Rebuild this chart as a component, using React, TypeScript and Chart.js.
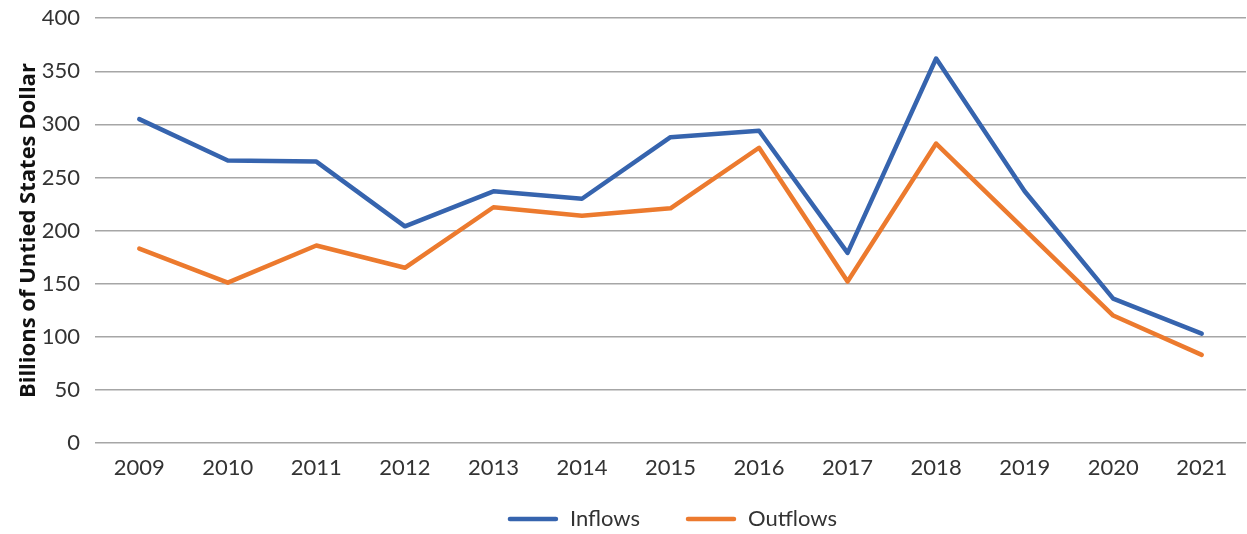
import React, { useEffect, useRef } from "react";
import { Chart, registerables } from "chart.js";

Chart.register(...registerables);

const years = ["2009", "2010", "2011", "2012", "2013", "2014", "2015", "2016", "2017", "2018", "2019", "2020", "2021"];
const inflows = [305, 266, 265, 204, 237, 230, 288, 294, 179, 362, 237, 136, 103];
const outflows = [183, 151, 186, 165, 222, 214, 221, 278, 152, 282, 201, 120, 83];
const yTicks = [0, 50, 100, 150, 200, 250, 300, 350, 400];

const FONT = "Lato, 'Open Sans', sans-serif";
const OFFSET_Y = -10;
const CANVAS_H = 544;
const LEGEND_Y = 529;

const legendPlugin = {
  id: "bottomLegend",
  afterDraw(chart: any) {
    const ctx = chart.ctx as CanvasRenderingContext2D;
    const area = chart.chartArea;
    const items = chart.data.datasets.map((ds: any) => ({ text: ds.label as string, color: ds.borderColor as string }));
    const lineW = 50;
    const textGap = 12;
    const itemGap = 46;
    ctx.save();
    ctx.font = `22px ${FONT}`;
    const widths = items.map((it: any) => lineW + textGap + ctx.measureText(it.text).width);
    const total = widths.reduce((a: number, b: number) => a + b, 0) + itemGap * (items.length - 1);
    let x = (area.left + area.right) / 2 + 2 - total / 2;
    items.forEach((it: any, i: number) => {
      ctx.strokeStyle = it.color;
      ctx.lineWidth = 4.5;
      ctx.lineCap = "round";
      ctx.beginPath();
      ctx.moveTo(x + 2, LEGEND_Y);
      ctx.lineTo(x + lineW - 2, LEGEND_Y);
      ctx.stroke();
      ctx.fillStyle = "#333333";
      ctx.textBaseline = "middle";
      ctx.textAlign = "left";
      ctx.fillText(it.text, x + lineW + textGap, LEGEND_Y);
      x += widths[i] + itemGap;
    });
    ctx.restore();
  },
};

export default function App() {
  const ref = useRef<HTMLCanvasElement | null>(null);
  useEffect(() => {
    if (!ref.current) return;
    const chart = new Chart(ref.current, {
      type: "line",
      data: {
        labels: years,
        datasets: [
          {
            label: "Inflows",
            data: inflows,
            borderColor: "#3664AE",
            backgroundColor: "#3664AE",
            borderWidth: 4.5,
            pointRadius: 0,
            tension: 0,
            borderCapStyle: "round",
            borderJoinStyle: "round",
          },
          {
            label: "Outflows",
            data: outflows,
            borderColor: "#EC7A2E",
            backgroundColor: "#EC7A2E",
            borderWidth: 4.5,
            pointRadius: 0,
            tension: 0,
            borderCapStyle: "round",
            borderJoinStyle: "round",
          },
        ],
      },
      plugins: [legendPlugin],
      options: {
        animation: false,
        responsive: false,
        maintainAspectRatio: false,
        layout: { padding: { left: 16, right: 1, top: 0, bottom: 41 } },
        plugins: {
          legend: { display: false },
          tooltip: { enabled: false },
        },
        scales: {
          x: {
            offset: true,
            grid: { display: false, drawTicks: false },
            border: { display: false },
            ticks: {
              color: "#333333",
              font: { family: FONT, size: 22 },
              padding: 12,
              maxRotation: 0,
            },
            afterFit: (scale: any) => {
              scale.height = 50;
            },
          },
          y: {
            min: 0,
            max: 400,
            afterBuildTicks: (axis: any) => {
              axis.ticks = yTicks.map((v) => ({ value: v }));
            },
            afterFit: (scale: any) => {
              scale.width = 79;
            },
            grid: { color: "#A6A6A6", lineWidth: 1.5, drawTicks: false },
            border: { display: false },
            ticks: {
              color: "#333333",
              font: { family: FONT, size: 22 },
              padding: 15,
            },
            title: {
              display: true,
              text: "Billions of Untied States Dollar",
              color: "#111111",
              font: { family: "'Open Sans', sans-serif", size: 22, weight: "bold" },
              padding: { top: 0, bottom: 4 },
            },
          },
        },
      },
    });
    return () => chart.destroy();
  }, []);
  return (
    <div style={{ position: "fixed", left: 0, top: 0, width: 1247, height: 534, background: "#fff", overflow: "hidden" }}>
      <canvas
        ref={ref}
        width={1247}
        height={CANVAS_H}
        style={{ display: "block", position: "absolute", left: 0, top: OFFSET_Y }}
      />
    </div>
  );
}
